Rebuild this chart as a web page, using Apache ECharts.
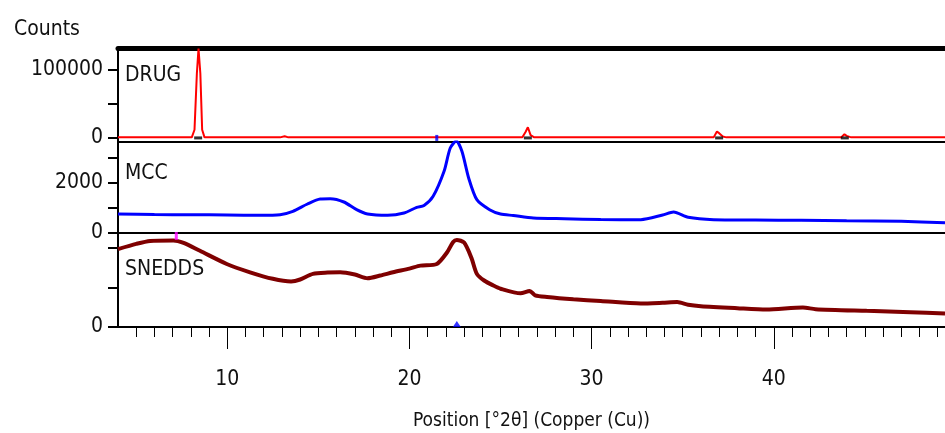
<!DOCTYPE html>
<html><head><meta charset="utf-8">
<script src="https://cdn.jsdelivr.net/npm/echarts@6/dist/echarts.min.js"></script>
<style>html,body{margin:0;padding:0;background:#fff}#c{width:945px;height:433px}</style>
</head><body><div id="c"></div>
<script>
// ---- data ----
const drugX = [4.0, 8.05, 8.2, 8.33, 8.42, 8.52, 8.62, 8.75, 12.9, 13.15, 13.35, 26.2, 26.38, 26.5, 26.65, 26.85, 36.7, 36.88, 37.0, 37.2, 37.4, 43.7, 43.88, 44.0, 44.25, 49.4];
const drugY = [800, 800, 12000, 95000, 131000, 95000, 12000, 800, 800, 2500, 800, 800, 9000, 15700, 4000, 800, 800, 9300, 7000, 2000, 800, 800, 5400, 3000, 800, 800];

const mccX = [4.0, 6.0, 8.0, 10.0, 11.8, 12.9, 13.6, 14.4, 15.1, 15.65, 16.4, 17.1, 17.7, 18.8, 19.7, 20.4, 20.8, 21.3, 21.9, 22.24, 22.57, 22.88, 23.25, 23.7, 24.4, 25.0, 25.7, 26.8, 28.5, 30.5, 32.7, 33.9, 34.5, 35.3, 36.7, 39.0, 41.5, 44.0, 47.0, 49.4];
const mccY = [760, 740, 730, 720, 707, 733, 867, 1160, 1360, 1370, 1240, 933, 760, 707, 800, 1027, 1100, 1467, 2467, 3400, 3680, 3267, 2200, 1333, 933, 760, 700, 600, 570, 540, 533, 720, 840, 627, 533, 520, 507, 490, 467, 413];

const sneddsX = [4.0, 5.0, 5.76, 7.04, 7.6, 8.5, 9.97, 11.25, 12.5, 13.5, 14.0, 14.7, 15.5, 16.2, 17.0, 17.7, 18.4, 19.1, 20.0, 20.6, 21.5, 22.06, 22.4, 22.6, 23.0, 23.4, 23.7, 24.1, 24.6, 25.0, 26.1, 26.6, 26.9, 27.55, 29.0, 30.5, 32.7, 33.9, 34.7, 35.3, 36.0, 38.0, 39.6, 41.6, 42.3, 45.1, 47.5, 49.4];
const sneddsY = [787, 840, 870, 875, 850, 770, 637, 553, 487, 460, 480, 537, 550, 553, 530, 493, 520, 553, 590, 620, 637, 753, 860, 880, 853, 700, 537, 470, 420, 387, 340, 365, 320, 303, 280, 263, 237, 245, 253, 225, 210, 190, 177, 197, 180, 163, 150, 137];

// reference pattern markers
const drugRefMarkX = [21.5];
const drugBaseMarkX = [8.4, 26.5, 37.0, 43.9];
const sneddsTopMarkX = [7.2];
const sneddsBottomMarkX = [22.6];

// axis ticks / labels
const xMajor = [10, 20, 30, 40];
const xMinor = [];
for (let v = 5; v <= 49; v++) xMinor.push(v);
const drugTicks = [0, 50000, 100000], drugLabels = [0, 100000];
const mccTicks = [0, 1000, 2000, 3000], mccLabels = [0, 2000];
const sneddsTicks = [0, 400, 800], sneddsLabels = [0];
const panelNames = ['DRUG', 'MCC', 'SNEDDS'];

const xMin = 4, xMax = 49.4;
const FONT = "'DejaVu Sans Condensed','Liberation Sans Narrow',sans-serif";
const zip = (a, b) => a.map((v, i) => [v, b[i]]);
const plain = v => String(v);

const grids = [
  {left: 118, right: 0, top: 48, height: 94},
  {left: 118, right: 0, top: 142, height: 91},
  {left: 118, right: 0, top: 233, height: 94}
];

function yAxis(gi, min, max, ticks, labels) {
  return {
    type: 'value', gridIndex: gi, min: min, max: max,
    axisLine: {show: true, lineStyle: {color: '#000', width: 2}},
    axisTick: {show: true, customValues: ticks, length: 10, inside: false, lineStyle: {color: '#000', width: 2}},
    axisLabel: {show: true, customValues: labels, formatter: plain, margin: 15, color: '#111', fontFamily: FONT, fontSize: 21},
    splitLine: {show: false}
  };
}
function xLineAxis(gi, pos, w) {
  return {
    type: 'value', gridIndex: gi, min: xMin, max: xMax, position: pos,
    axisLine: {show: true, onZero: false, lineStyle: {color: '#000', width: w}},
    axisTick: {show: false}, axisLabel: {show: false}, splitLine: {show: false}
  };
}
const titleStyle = {fontFamily: FONT, fontSize: 21, fontWeight: 'normal', color: '#111'};

const option = {
  animation: false,
  backgroundColor: '#fff',
  title: [
    {text: 'Counts', left: 9, top: 14, textStyle: titleStyle},
    {text: panelNames[0], left: 120, top: 60, textStyle: titleStyle},
    {text: panelNames[1], left: 120, top: 158, textStyle: titleStyle},
    {text: panelNames[2], left: 120, top: 254, textStyle: titleStyle}
  ],
  grid: grids,
  xAxis: [
    xLineAxis(0, 'bottom', 2),
    xLineAxis(1, 'bottom', 2),
    {
      type: 'value', gridIndex: 2, min: xMin, max: xMax, position: 'bottom',
      name: 'Position [°2θ] (Copper (Cu))', nameLocation: 'middle', nameGap: 85,
      nameTextStyle: {fontFamily: FONT, fontSize: 19, color: '#111'},
      axisLine: {show: true, onZero: false, lineStyle: {color: '#000', width: 2}},
      axisTick: {show: true, customValues: xMajor, length: 22, lineStyle: {color: '#000', width: 1}},
      axisLabel: {show: true, customValues: xMajor, formatter: plain, margin: 42, color: '#111', fontFamily: FONT, fontSize: 21},
      splitLine: {show: false}
    },
    {
      type: 'value', gridIndex: 2, min: xMin, max: xMax, position: 'bottom',
      axisLine: {show: false},
      axisTick: {show: true, customValues: xMinor, length: 10, lineStyle: {color: '#000', width: 1}},
      axisLabel: {show: false}, splitLine: {show: false}
    },
    xLineAxis(0, 'top', 5)
  ],
  yAxis: [
    yAxis(0, -6000, 132000, drugTicks, drugLabels),
    yAxis(1, 0, 3640, mccTicks, mccLabels),
    yAxis(2, 0, 950, sneddsTicks, sneddsLabels)
  ],
  series: [
    {type: 'line', xAxisIndex: 0, yAxisIndex: 0, data: zip(drugX, drugY), showSymbol: false, lineStyle: {color: '#ff0000', width: 2}, z: 3},
    {type: 'line', xAxisIndex: 1, yAxisIndex: 1, data: zip(mccX, mccY), showSymbol: false, smooth: 0.25, lineStyle: {color: '#0000ff', width: 3}, z: 3},
    {type: 'line', xAxisIndex: 2, yAxisIndex: 2, data: zip(sneddsX, sneddsY), showSymbol: false, smooth: 0.25, lineStyle: {color: '#7f0000', width: 4}, z: 3},
    {type: 'scatter', xAxisIndex: 0, yAxisIndex: 0, data: drugBaseMarkX.map(v => [v, 0]), symbol: 'rect', symbolSize: [8, 3], itemStyle: {color: '#000'}, z: 4},
    {type: 'scatter', xAxisIndex: 0, yAxisIndex: 0, data: drugRefMarkX.map(v => [v, 0]), symbol: 'rect', symbolSize: [3, 6], itemStyle: {color: '#0000ff'}, z: 4},
    {type: 'scatter', xAxisIndex: 2, yAxisIndex: 2, data: sneddsTopMarkX.map(v => [v, 920]), symbol: 'rect', symbolSize: [3, 8], itemStyle: {color: '#ff00ff'}, z: 4},
    {type: 'scatter', xAxisIndex: 2, yAxisIndex: 2, data: sneddsBottomMarkX.map(v => [v, 0]), symbol: 'triangle', symbolSize: [8, 6], symbolOffset: [0, -3], itemStyle: {color: '#0000ff'}, z: 4}
  ]
};
const chart = echarts.init(document.getElementById('c'), null, {renderer: 'canvas'});
chart.setOption(option);
</script>
</body></html>
